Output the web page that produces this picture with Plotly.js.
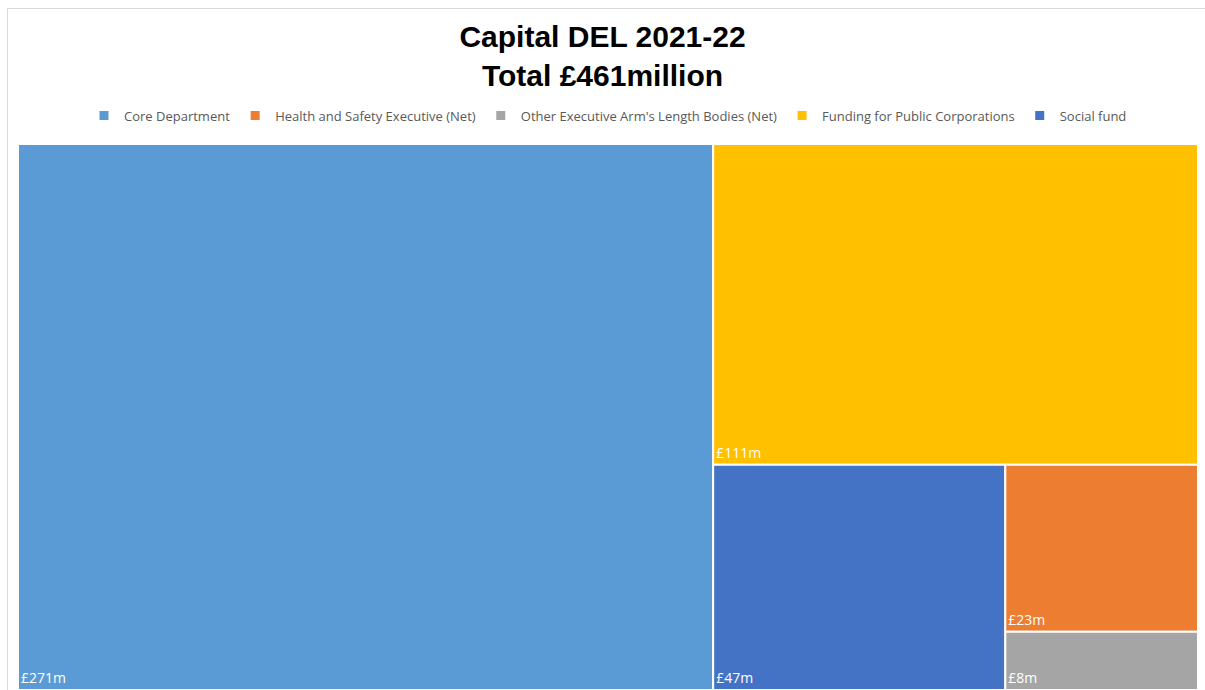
<!DOCTYPE html>
<html><head><meta charset="utf-8">
<script src="https://cdn.plot.ly/plotly-3.0.1.min.js"></script>
<style>
html,body{margin:0;padding:0;background:#fff;}
#wrap{position:relative;width:1205px;height:690px;overflow:hidden;}
#frame{position:absolute;left:7px;top:8px;width:1205px;height:700px;border:1px solid #d9d9d9;box-sizing:border-box;pointer-events:none;z-index:5;}
#chart{position:absolute;left:0;top:0;width:1205px;height:690px;}
</style>
</head><body>
<div id="wrap"><div id="chart"></div><div id="frame"></div></div>
<script>
const categories = ["Core Department", "Health and Safety Executive (Net)", "Other Executive Arm's Length Bodies (Net)", "Funding for Public Corporations", "Social fund"];
const values = [271, 23, 8, 111, 47];
const colors = ["#5B9BD5", "#ED7D31", "#A5A5A5", "#FFC000", "#4472C4"];
const titleText = "Capital DEL 2021-22<br>Total £461million";

const traces = [{
  type: "treemap",
  labels: categories,
  parents: categories.map(() => ""),
  values: values,
  branchvalues: "total",
  sort: true,
  tiling: {packing: "squarify", squarifyratio: 1, pad: 0},
  marker: {colors: colors, line: {color: "#ffffff", width: 2}, pad: {t: 0, l: 0, r: 0, b: 0}},
  pathbar: {visible: false},
  texttemplate: "£%{value}m",
  textposition: "bottom left",
  textfont: {family: "Open Sans, Noto Sans, sans-serif", size: 14, color: "#ffffff"},
  hoverinfo: "label+value",
  showlegend: false,
  domain: {x: [0, 1], y: [0, 1]}
}];
categories.forEach((c, i) => {
  traces.push({
    type: "scatter", mode: "markers", x: [null], y: [null], name: c,
    marker: {symbol: "square", size: 9, color: colors[i]},
    showlegend: true, hoverinfo: "skip"
  });
});

const layout = {
  width: 1205, height: 690,
  margin: {l: 18, r: 7, t: 144, b: 0, pad: 0},
  paper_bgcolor: "rgba(0,0,0,0)",
  plot_bgcolor: "rgba(0,0,0,0)",
  title: {text: titleText, x: 0.5, xanchor: "center", yref: "container", y: 1 - 47/690, yanchor: "bottom",
          font: {family: "Liberation Sans, Arial, sans-serif", size: 30, color: "#000000", weight: "bold"}},
  xaxis: {visible: false},
  yaxis: {visible: false},
  showlegend: true,
  legend: {orientation: "h", x: 0.5, xanchor: "center", y: 1.052, yanchor: "middle",
           font: {family: "Open Sans, Noto Sans, sans-serif", size: 13, color: "#595959"},
           itemclick: false, itemdoubleclick: false, bgcolor: "rgba(0,0,0,0)", tracegroupgap: 0},
  hovermode: false
};
Plotly.newPlot("chart", traces, layout, {displayModeBar: false, staticPlot: true});
</script>
</body></html>
